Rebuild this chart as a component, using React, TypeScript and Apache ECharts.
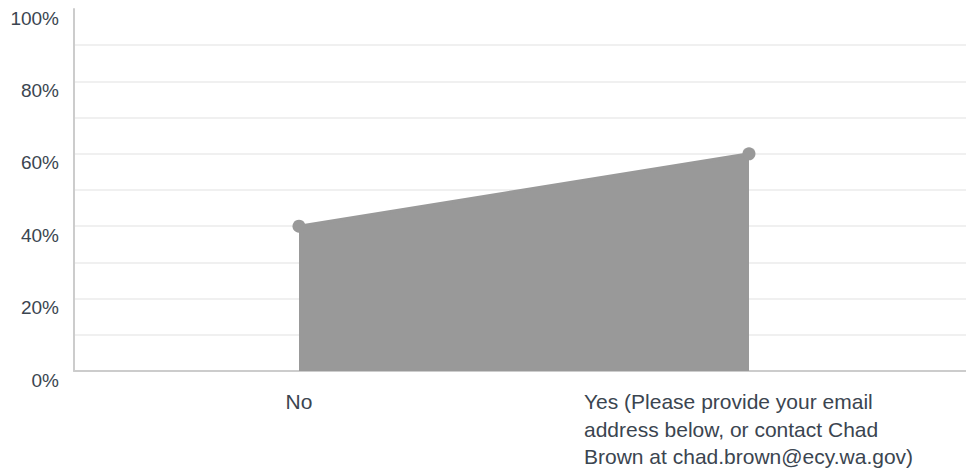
import React, { useEffect, useRef } from "react";
import * as echarts from "echarts";

const categories = [
  "No",
  "Yes (Please provide your email\naddress below, or contact Chad\nBrown at chad.brown@ecy.wa.gov)",
];
const values = [40, 60];
const yMin = 0;
const yMax = 100;
const yStep = 10;

const TEXT = "#3b4550";
const FONT = "'Liberation Sans', Arial, Helvetica, sans-serif";

export default function App() {
  const ref = useRef<HTMLDivElement>(null);
  useEffect(() => {
    if (!ref.current) return;
    const chart = echarts.init(ref.current, undefined, { renderer: "svg" });
    const nLines = (yMax - yMin) / yStep + 1;
    const gridColors = Array.from({ length: nLines }, (_, i) =>
      i === nLines - 1 ? "rgba(0,0,0,0)" : "#ebebeb"
    );
    chart.setOption({
      animation: false,
      grid: {
        left: 74,
        top: 9,
        width: 900,
        bottom: 97,
        containLabel: false,
        outerBoundsMode: "none",
      },
      xAxis: {
        type: "category",
        data: categories,
        boundaryGap: true,
        axisLine: { show: true, lineStyle: { color: "#cccccc", width: 2 } },
        axisTick: { show: false },
        splitLine: { show: false },
        axisLabel: {
          interval: 0,
          hideOverlap: false,
          margin: 17,
          color: TEXT,
          fontFamily: FONT,
          fontSize: 21,
          lineHeight: 27.5,
          formatter: (v: string) => (v.indexOf("\n") >= 0 ? "{w|" + v + "}" : v),
          rich: {
            w: {
              width: 330,
              align: "left",
              color: TEXT,
              fontFamily: FONT,
              fontSize: 21,
              lineHeight: 27.5,
            },
          },
        },
      },
      yAxis: {
        type: "value",
        min: yMin,
        max: yMax,
        interval: yStep,
        axisLine: { show: true, lineStyle: { color: "#cccccc", width: 2 } },
        axisTick: { show: false },
        splitLine: { show: true, lineStyle: { color: gridColors, width: 1.5 } },
        axisLabel: {
          margin: 15,
          color: TEXT,
          fontFamily: FONT,
          fontSize: 19,
          lineHeight: 18,
          verticalAlign: "top",
          formatter: (v: number) => (v % 20 === 0 ? v + "%" : ""),
        },
      },
      series: [
        {
          type: "line",
          data: values,
          symbol: "circle",
          symbolSize: 13,
          showSymbol: true,
          itemStyle: { color: "#999999" },
          lineStyle: { color: "#999999", width: 3 },
          areaStyle: { color: "#999999", opacity: 1 },
          label: { show: false },
        },
      ],
    });
    return () => chart.dispose();
  }, []);
  return (
    <div
      ref={ref}
      style={{ position: "fixed", left: 0, top: 0, width: 966, height: 468, background: "#ffffff" }}
    />
  );
}
